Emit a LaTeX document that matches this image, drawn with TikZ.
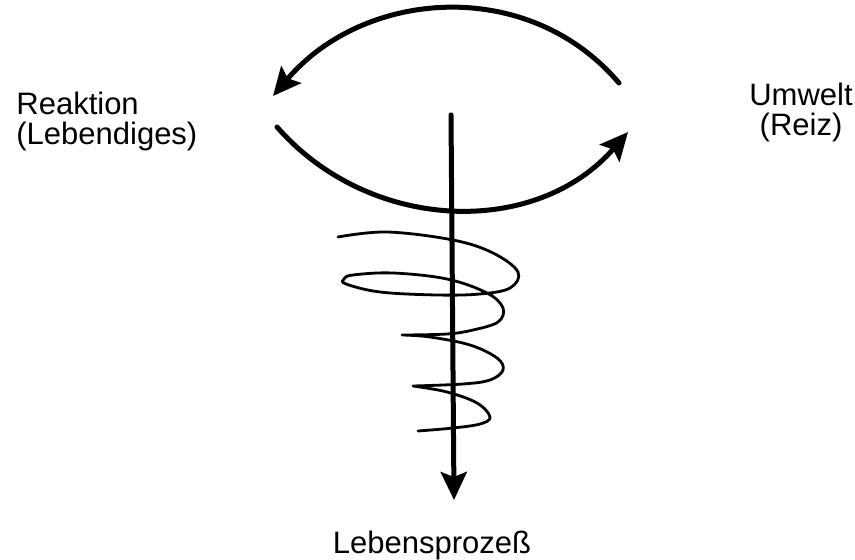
\documentclass[tikz,border=0pt]{standalone}
\usepackage{fontspec}
\setmainfont{Liberation Sans}
\usetikzlibrary{arrows.meta}
\tikzset{
  >={Stealth[length=14pt,width=13pt,inset=2.5pt]},
  lbl/.style={font=\fontsize{15.5pt}{15pt}\selectfont,inner sep=0pt,align=#1},
  lbl/.default=center,
  bow/.style={->,line width=2.5pt,line cap=round},
  coil/.style={line width=1.4pt,line cap=round,line join=round},
}

\begin{document}
\begin{tikzpicture}[x=0.5pt,y=-0.5pt]
  \useasboundingbox (0,0) rectangle (855,560);
  % labels
  \node[lbl=left,anchor=north west] (reaktion) at (16,92) {Reaktion\\(Lebendiges)};
  \node[lbl,anchor=north] (umwelt) at (801,83) {Umwelt\\(Reiz)};
  \node[lbl,anchor=north] (prozess) at (432,531) {Lebensprozeß};
  % ends of the bows and the axis
  \coordinate (a1) at (619,83);  \coordinate (a2) at (273,96);
  \coordinate (b1) at (277,127); \coordinate (b2) at (628,132);
  \coordinate (top) at (451,115); \coordinate (tip) at (454,500);
  % spiral
  \draw[coil] plot[smooth,tension=0.6] coordinates {(338,237) (387,232) (453,240) (493,253) (518,272)
      (510,288) (480,294) (437,295) (380,292) (346,284) (344,279) (353,275) (393,273) (447,279)
      (487,293) (503,308) (498,322) (473,330) (447,334) (402,335)}
    plot[smooth,tension=0.6] coordinates {(402,335) (430,337) (470,345) (497,358) (503,370)
      (490,380) (463,384) (413,386)}
    plot[smooth,tension=0.6] coordinates {(413,386) (447,392) (477,403) (490,417) (480,424)
      (453,428) (418,431)};
  % bows
  \draw[bow] (a1) .. controls (528,-24) and (364,-11) .. (a2);
  \draw[bow] (b1) .. controls (370,233) and (536,238) .. (b2);
  \draw[bow] (top) -- (tip);
\end{tikzpicture}
\end{document}
